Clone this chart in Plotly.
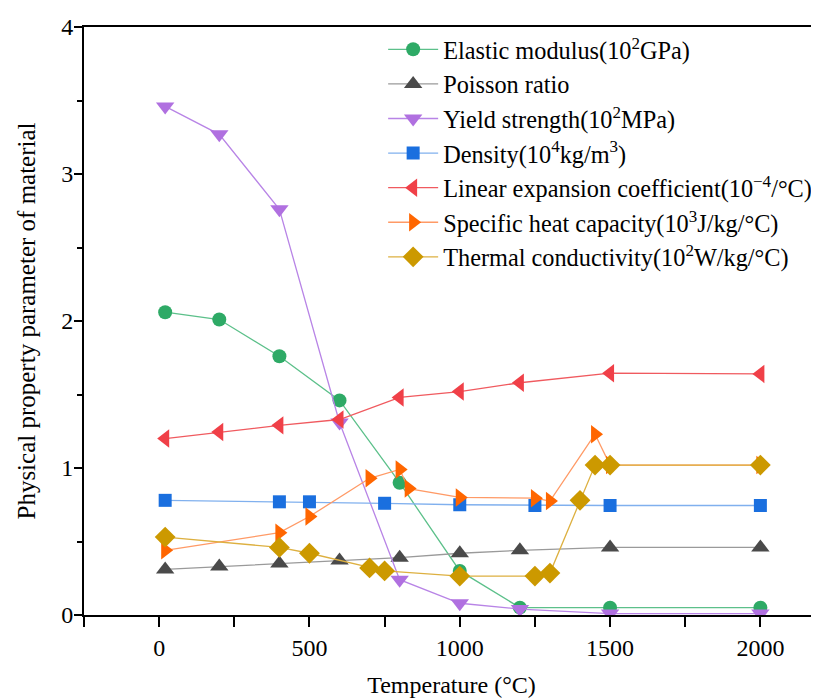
import plotly.graph_objects as go

# ---- data ----
T_elastic = [20, 200, 400, 600, 800, 1000, 1200, 1500, 2000]
elastic = [2.06, 2.01, 1.76, 1.46, 0.90, 0.30, 0.05, 0.05, 0.05]

T_poisson = [20, 200, 400, 600, 800, 1000, 1200, 1500, 2000]
poisson = [0.31, 0.33, 0.35, 0.37, 0.39, 0.42, 0.44, 0.46, 0.46]

T_yield = [20, 200, 400, 600, 800, 1000, 1200, 1500, 2000]
yield_s = [3.46, 3.27, 2.76, 1.31, 0.24, 0.08, 0.04, 0.01, 0.01]

T_density = [20, 400, 500, 750, 1000, 1250, 1500, 2000]
density = [0.78, 0.77, 0.77, 0.76, 0.75, 0.745, 0.745, 0.745]

T_expan = [20, 200, 400, 600, 800, 1000, 1200, 1500, 2000]
expan = [1.20, 1.245, 1.29, 1.33, 1.48, 1.52, 1.58, 1.645, 1.64]

T_heat = [20, 400, 500, 700, 800, 830, 1000, 1250, 1300, 1450, 1500, 2000]
heat = [0.44, 0.56, 0.67, 0.93, 0.99, 0.86, 0.80, 0.795, 0.775, 1.23, 1.02, 1.02]

T_cond = [20, 400, 500, 700, 750, 1000, 1250, 1300, 1400, 1450, 1500, 2000]
cond = [0.53, 0.46, 0.42, 0.32, 0.30, 0.265, 0.265, 0.285, 0.78, 1.02, 1.02, 1.02]

x_ticks = [0, 500, 1000, 1500, 2000]
y_ticks = [0, 1, 2, 3, 4]

FONT = "'Liberation Serif', 'Times New Roman', serif"

series = [
    ("Elastic modulus(10<sup>2</sup>GPa)", T_elastic, elastic, "circle", 14, "#2EAA66", "#5CC08A"),
    ("Poisson ratio", T_poisson, poisson, "triangle-up", 16, "#4A4A4A", "#9A9A9A"),
    ("Yield strength(10<sup>2</sup>MPa)", T_yield, yield_s, "triangle-down", 16, "#B070E0", "#B884E6"),
    ("Density(10<sup>4</sup>kg/m<sup>3</sup>)", T_density, density, "square", 13, "#1A6FDF", "#80B0EE"),
    ("Linear expansion coefficient(10<sup>−4</sup>/°C)", T_expan, expan, "triangle-left", 16, "#F04048", "#F05A5F"),
    ("Specific heat capacity(10<sup>3</sup>J/kg/°C)", T_heat, heat, "triangle-right", 16, "#FF6600", "#FF9A66"),
    ("Thermal conductivity(10<sup>2</sup>W/kg/°C)", T_cond, cond, "diamond", 16, "#CC9900", "#DDB040"),
]

fig = go.Figure()
for i, (name, xs, ys, sym, sz, mc, lc) in enumerate(series):
    fig.add_trace(go.Scatter(
        x=xs, y=ys, name=name, mode="lines+markers",
        line=dict(color=lc, width=1.3),
        marker=dict(symbol=sym, size=sz, color=mc, line=dict(width=0)),
    ))

# the page body has an 8px margin, so the figure is laid out 8px up/left
fig.update_layout(
    width=819, height=699,
    paper_bgcolor="white", plot_bgcolor="white",
    margin=dict(l=76, r=8, t=19, b=92, autoexpand=False),
    font=dict(family=FONT, size=24, color="black"),
    showlegend=True,
    legend=dict(
        x=0.407, y=1.0, xanchor="left", yanchor="top",
        bgcolor="rgba(255,255,255,0)", borderwidth=0,
        font=dict(family=FONT, size=24.3, color="black"),
        tracegroupgap=0, itemwidth=50,
    ),
    xaxis=dict(
        range=[-250, 2195], tickvals=x_ticks, ticktext=[str(v) for v in x_ticks],
        ticks="outside", ticklen=10, tickwidth=2, tickcolor="black",
        showline=True, linewidth=2, linecolor="black", mirror=True,
        showgrid=False, zeroline=False, automargin=False,
        minor=dict(tickvals=[-250, 250, 750, 1250, 1750], ticks="outside", ticklen=10, tickwidth=2, tickcolor="black"),
        title=dict(text="Temperature (°C)", font=dict(family=FONT, size=24), standoff=16),
        tickfont=dict(family=FONT, size=24),
    ),
    yaxis=dict(
        range=[0, 4], tickvals=y_ticks, ticktext=[str(v) for v in y_ticks],
        ticks="outside", ticklen=8, tickwidth=2, tickcolor="black",
        showline=True, linewidth=2, linecolor="black", mirror=False,
        showgrid=False, zeroline=False, automargin=False,
        ticklabelstandoff=-4,
        minor=dict(tickvals=[0.5, 1.5, 2.5, 3.5], ticks="outside", ticklen=5, tickwidth=2, tickcolor="black"),
        title=dict(text="Physical property parameter of material", font=dict(family=FONT, size=25), standoff=18),
        tickfont=dict(family=FONT, size=24),
    ),
)

fig.write_html("out.html")
